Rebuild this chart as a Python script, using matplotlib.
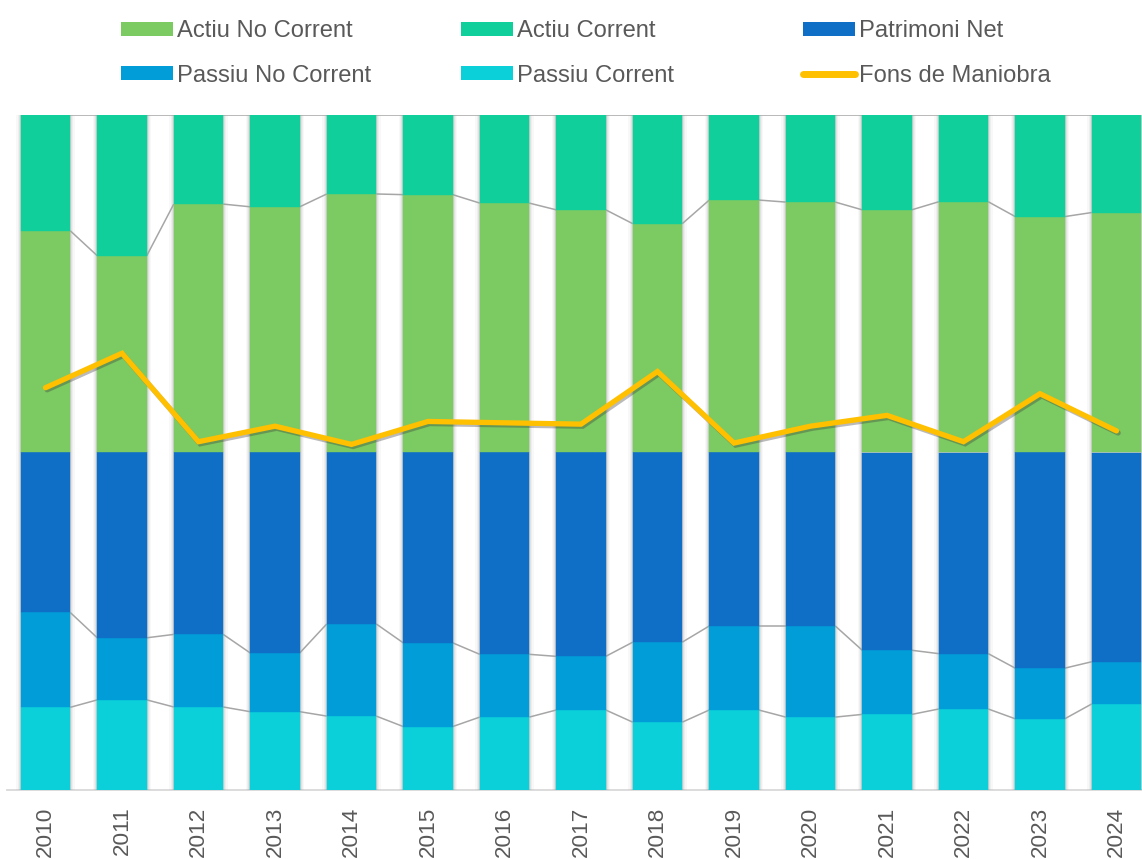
import matplotlib
matplotlib.use("Agg")
import matplotlib.pyplot as plt
import numpy as np
from matplotlib.patches import Patch
from matplotlib.lines import Line2D
import matplotlib.patheffects as pe

plt.rcParams['font.family'] = ['Liberation Sans', 'DejaVu Sans']

years = ['2010', '2011', '2012', '2013', '2014', '2015', '2016', '2017',
         '2018', '2019', '2020', '2021', '2022', '2023', '2024']
passiu_corrent = [24.5, 26.7, 24.6, 23.2, 21.9, 18.8, 21.6, 23.7, 20.1, 23.7, 21.6, 22.4, 24.0, 21.1, 25.5]
passiu_no_corrent = [28.1, 18.4, 21.5, 17.4, 27.3, 24.8, 18.6, 15.9, 23.7, 24.9, 27.0, 19.0, 16.4, 15.0, 12.5]
patrimoni_net = [47.4, 54.9, 53.9, 59.4, 50.8, 56.4, 59.8, 60.4, 56.2, 51.4, 51.4, 58.6, 59.6, 63.9, 62.0]
actiu_no_corrent = [65.7, 58.3, 73.6, 72.8, 76.6, 76.4, 73.9, 71.9, 67.8, 74.8, 74.2, 71.9, 74.3, 69.9, 71.1]
actiu_corrent = [34.3, 41.7, 26.4, 27.2, 23.4, 23.6, 26.1, 28.1, 32.2, 25.2, 25.8, 28.1, 25.7, 30.1, 28.9]
fons_maniobra = [9.6, 14.7, 1.6, 3.9, 1.2, 4.6, 4.4, 4.2, 12.0, 1.4, 3.9, 5.5, 1.6, 8.7, 3.2]

series = [
    ('Passiu Corrent', passiu_corrent, '#0BD0D9', True),
    ('Passiu No Corrent', passiu_no_corrent, '#009DD9', True),
    ('Patrimoni Net', patrimoni_net, '#0F6FC6', False),
    ('Actiu No Corrent', actiu_no_corrent, '#7CCA62', True),
    ('Actiu Corrent', actiu_corrent, '#10CF9B', True),
]
line_color = '#FFC000'
text_color = '#595959'

W, H = 1142, 859
fig = plt.figure(figsize=(W / 100, H / 100), dpi=100)
left_px, right_px = 7.25, 1154.75
top_px, bottom_px = 115, 790
ax = fig.add_axes([left_px / W, 1 - bottom_px / H, (right_px - left_px) / W, (bottom_px - top_px) / H])

x = np.arange(len(years))
w = 0.647

# soft shadow behind bars
totals = np.zeros(len(years))
for _, vals, _, _ in series:
    totals = totals + np.array(vals)
for dw, a in [(0.12, 0.05), (0.085, 0.08), (0.055, 0.11), (0.028, 0.16)]:
    ax.bar(x, totals, width=w + dw, color='#808080', alpha=a, zorder=1, linewidth=0)

bottom = np.zeros(len(years))
tops = []
for name, vals, col, show_line in series:
    v = np.array(vals)
    ax.bar(x, v, width=w, bottom=bottom, color=col, edgecolor=col, linewidth=0.3,
           zorder=2, label=name)
    bottom = bottom + v
    if show_line:
        tops.append(bottom.copy())

# series lines between bars
for t in tops:
    for i in range(len(years) - 1):
        ax.plot([x[i] + w / 2, x[i + 1] - w / 2], [t[i], t[i + 1]],
                color='#A6A6A6', lw=1.1, zorder=1.5, solid_capstyle='butt')

ax.set_xlim(-0.5, len(years) - 0.5)
ax.set_ylim(0, 200)
ax.set_yticks([])
ax.set_xticks(x)
ax.set_xticklabels(years, rotation=90, fontsize=16.2, color=text_color)
ax.tick_params(axis='x', length=0, pad=12)
for s in ['top', 'right', 'left']:
    ax.spines[s].set_visible(False)
ax.spines['bottom'].set_color('#D9D9D9')
ax.spines['bottom'].set_linewidth(1.3)
ax.spines['bottom'].set_zorder(0.5)

ax2 = ax.twinx()
ax2.set_ylim(-50, 50)
ax2.plot(x, fons_maniobra, color=line_color, lw=3.8, solid_capstyle='round',
         solid_joinstyle='miter', zorder=5,
         path_effects=[pe.SimpleLineShadow(offset=(1.2, -1.5), shadow_color='#3a3a3a', alpha=0.35),
                       pe.Normal()])
ax2.set_yticks([])
for s in ax2.spines.values():
    s.set_visible(False)

# legend: three columns at fixed positions, two rows each
fs = 17.1
cols = [
    (121, [('Actiu No Corrent', '#7CCA62', 'patch'), ('Passiu No Corrent', '#009DD9', 'patch')]),
    (461, [('Actiu Corrent', '#10CF9B', 'patch'), ('Passiu Corrent', '#0BD0D9', 'patch')]),
    (803, [('Patrimoni Net', '#0F6FC6', 'patch'), ('Fons de Maniobra', line_color, 'line')]),
]
for xpx, entries in cols:
    handles = []
    labels = []
    for lab, col, kind in entries:
        if kind == 'patch':
            handles.append(Patch(facecolor=col, edgecolor='none'))
        else:
            handles.append(Line2D([0], [0], color=col, lw=5, solid_capstyle='round'))
        labels.append(lab)
    fig.legend(handles, labels, loc='upper left', bbox_to_anchor=(xpx / W, 1 - 20 / H),
               frameon=False, fontsize=fs, handlelength=2.2, handleheight=0.52,
               handletextpad=0.17, labelspacing=0.96, borderpad=0, borderaxespad=0,
               labelcolor=text_color)

fig.savefig('out.png', dpi=100)
